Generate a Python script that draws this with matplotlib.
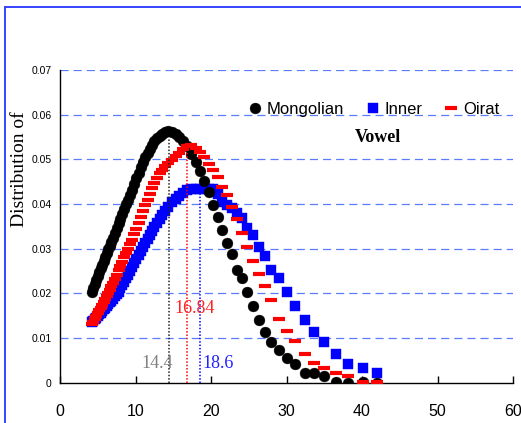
import matplotlib
matplotlib.use("Agg")
import matplotlib.pyplot as plt
from matplotlib.patches import Rectangle

# shared x grid (denser on the rising side, sparser in the tail)
X_VALUES = [
    4.2, 4.4, 4.6, 4.8, 5.0, 5.2, 5.4, 5.6, 5.8, 6.0,
    6.2, 6.4, 6.6, 6.8, 7.0, 7.25, 7.5, 7.75, 8.0, 8.25,
    8.5, 8.75, 9.0, 9.25, 9.5, 9.8, 10.1, 10.4, 10.7, 11.0,
    11.3, 11.6, 11.9, 12.2, 12.5, 12.85, 13.2, 13.55, 13.9, 14.3,
    14.8, 15.3, 15.8, 16.3, 16.85, 17.4, 17.95, 18.5, 19.1, 19.7,
    20.3, 20.9, 21.5, 22.1, 22.8, 23.5, 24.1, 24.8, 25.5, 26.3,
    27.1, 27.9, 29.0, 30.1, 31.1, 32.5, 33.7, 35.0, 36.5, 38.2,
    40.1, 42.0,
]

MONGOLIAN = [
    0.0204, 0.0213, 0.0221, 0.0230, 0.0238, 0.0247, 0.0256, 0.0264, 0.0273, 0.0281,
    0.0290, 0.0299, 0.0307, 0.0316, 0.0324, 0.0335, 0.0346, 0.0357, 0.0367, 0.0378,
    0.0389, 0.0400, 0.0410, 0.0421, 0.0432, 0.0445, 0.0458, 0.0470, 0.0482, 0.0494,
    0.0505, 0.0515, 0.0524, 0.0532, 0.0540, 0.0547, 0.0553, 0.0557, 0.0561, 0.0563,
    0.0561, 0.0557, 0.0551, 0.0542, 0.0530, 0.0512, 0.0493, 0.0473, 0.0452, 0.0428,
    0.0398, 0.0370, 0.0342, 0.0312, 0.0288, 0.0253, 0.0234, 0.0203, 0.0172, 0.0140,
    0.0114, 0.0092, 0.0073, 0.0055, 0.0042, 0.0021, 0.0021, 0.0015, 0.0002, 0.0000,
    0.0002, 0.0000,
]

INNER = [
    0.0135, 0.0138, 0.0142, 0.0145, 0.0149, 0.0153, 0.0156, 0.0160, 0.0164, 0.0168,
    0.0172, 0.0176, 0.0180, 0.0184, 0.0188, 0.0193, 0.0198, 0.0204, 0.0211, 0.0218,
    0.0226, 0.0234, 0.0242, 0.0250, 0.0258, 0.0267, 0.0276, 0.0285, 0.0294, 0.0303,
    0.0312, 0.0321, 0.0330, 0.0339, 0.0348, 0.0357, 0.0366, 0.0375, 0.0384, 0.0394,
    0.0404, 0.0412, 0.0419, 0.0425, 0.0432, 0.0434, 0.0434, 0.0434, 0.0434, 0.0434,
    0.0433, 0.0422, 0.0405, 0.0398, 0.0390, 0.0380, 0.0368, 0.0347, 0.0330, 0.0304,
    0.0283, 0.0252, 0.0234, 0.0202, 0.0172, 0.0140, 0.0114, 0.0092, 0.0064, 0.0042,
    0.0034, 0.0022,
]

OIRAT = [
    0.0131, 0.0137, 0.0143, 0.0149, 0.0155, 0.0162, 0.0168, 0.0175, 0.0181, 0.0188,
    0.0195, 0.0201, 0.0208, 0.0216, 0.0223, 0.0233, 0.0242, 0.0252, 0.0261, 0.0271,
    0.0281, 0.0290, 0.0300, 0.0310, 0.0320, 0.0333, 0.0345, 0.0358, 0.0371, 0.0384,
    0.0397, 0.0410, 0.0423, 0.0436, 0.0448, 0.0459, 0.0469, 0.0477, 0.0484, 0.0491,
    0.0499, 0.0507, 0.0515, 0.0523, 0.0530, 0.0531, 0.0525, 0.0517, 0.0505, 0.0490,
    0.0477, 0.0460, 0.0437, 0.0420, 0.0393, 0.0367, 0.0336, 0.0304, 0.0273, 0.0243,
    0.0217, 0.0185, 0.0142, 0.0115, 0.0093, 0.0065, 0.0043, 0.0034, 0.0022, 0.0015,
    0.0002, 0.0002,
]

# mean positions marked by dotted lines
PEAK_X = [14.4, 16.84, 18.6]
PEAK_TOP = [0.0545, 0.0530, 0.0433]
PEAK_LABELS = ["14.4", "16.84", "18.6"]

SERIES_NAMES = ["Mongolian", "Inner", "Oirat"]
X_TICKS = [0, 10, 20, 30, 40, 50, 60]
Y_TICKS = [0, 0.01, 0.02, 0.03, 0.04, 0.05, 0.06, 0.07]

SANS = ["Liberation Sans", "DejaVu Sans"]
SERIF = ["Liberation Serif", "DejaVu Serif"]

W, H = 521, 423
fig = plt.figure(figsize=(W / 100, H / 100), dpi=100)
ax = fig.add_axes([60 / W, 40.3 / H, 453 / W, 312.7 / H])

# outer blue frame, right and bottom edges fall outside the picture
fig.patches.append(Rectangle((5 / W, -0.2), 1.2, (H - 7) / H + 0.2,
                             transform=fig.transFigure, fill=False,
                             edgecolor="#3344ff", linewidth=1.4, clip_on=False))

for y in Y_TICKS[1:]:
    ax.axhline(y, color="#5a7dff", lw=0.9, linestyle=(0, (6.5, 4)), zorder=1)

h_inner, = ax.plot(X_VALUES, INNER, ls="none", marker="s", ms=6.6,
                   mfc="#0000ff", mec="#0000ff", mew=0.3, zorder=3)
h_mong, = ax.plot(X_VALUES, MONGOLIAN, ls="none", marker="o", ms=7.8,
                  mfc="black", mec="black", mew=0.3, zorder=4)
h_oirat, = ax.plot(X_VALUES, OIRAT, ls="none", marker="_", ms=8.5,
                   mew=3.0, color="#ff0000", zorder=5)

line_colors = ["#222222", "#ff0000", "#0000ff"]
for x, top, c in zip(PEAK_X, PEAK_TOP, line_colors):
    ax.vlines(x, 0, top, colors=c, linestyles=(0, (1, 1.2)), lw=1.1, zorder=6)

ax.text(12.9, 0.0043, PEAK_LABELS[0], color="#808080", fontsize=13,
        family=SERIF, ha="center", va="center", zorder=7)
ax.text(17.8, 0.0166, PEAK_LABELS[1], color="#ff2222", fontsize=13,
        family=SERIF, ha="center", va="center", zorder=7)
ax.text(20.9, 0.0043, PEAK_LABELS[2], color="#2222ff", fontsize=13,
        family=SERIF, ha="center", va="center", zorder=7)
ax.text(42.1, 0.0550, "Vowel", fontsize=13, weight="bold",
        family=SERIF, ha="center", va="center")

leg = ax.legend([h_mong, h_inner, h_oirat], SERIES_NAMES, ncol=3,
                frameon=False, loc="center left",
                bbox_to_anchor=(250 / W, (H - 109) / H),
                bbox_transform=fig.transFigure, borderaxespad=0,
                borderpad=0, handlelength=0.6, handletextpad=0.39,
                columnspacing=1.44, prop={"family": SANS, "size": 12})

ax.set_xlim(0, 60)
ax.set_ylim(0, 0.07)
ax.set_xticks(X_TICKS)
ax.set_yticks(Y_TICKS)
ax.set_yticklabels(["0" if v == 0 else f"{v:.2f}" for v in Y_TICKS])
ax.tick_params(axis="x", direction="in", length=5, width=1, pad=15,
               labelsize=11.5)
ax.tick_params(axis="y", length=0, pad=6, labelsize=7.5)
for lab in ax.get_xticklabels() + ax.get_yticklabels():
    lab.set_family(SANS)

ax.spines[["top", "right"]].set_visible(False)
ax.spines[["left", "bottom"]].set_linewidth(1.0)

fig.text(20 / W, (H - 169.5) / H, "Distribution of", rotation=90,
         fontsize=14, family=SERIF, ha="center", va="center")

fig.savefig("out.png", dpi=100)
plt.close(fig)
